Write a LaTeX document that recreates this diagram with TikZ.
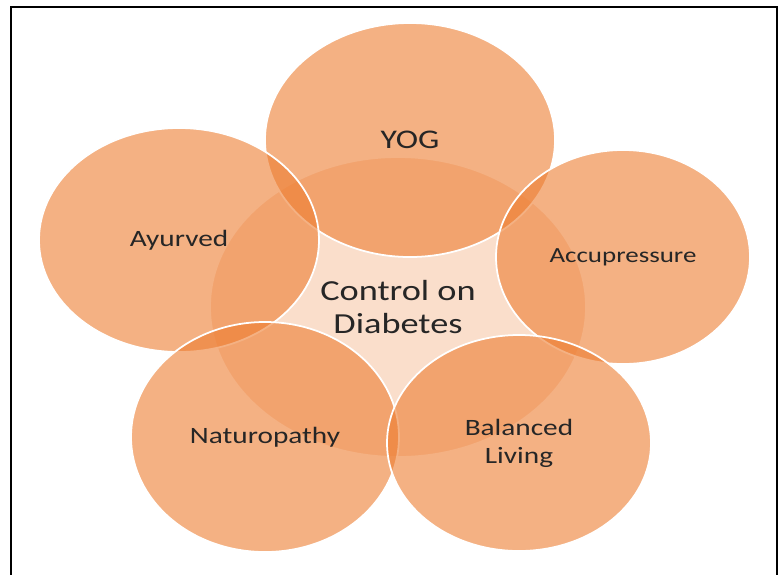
\documentclass[tikz,border=0pt]{standalone}
\usepackage{amsmath}
\usepackage{fontspec}
\setmainfont{Carlito}
\usepackage{tikz}
\usetikzlibrary{shapes.geometric}

\definecolor{petal}{HTML}{ED7D31}
\definecolor{ink}{HTML}{262626}
\newcommand{\hstretch}[1]{\scalebox{1.25}[1]{#1}}

\tikzset{
  hub/.style={ellipse, inner sep=0pt, draw=white, line width=1.5pt,
    fill=petal, fill opacity=0.25, text opacity=1, text=ink, align=center},
  petalnode/.style={ellipse, inner sep=0pt, draw=white, line width=1.5pt,
    fill=petal, fill opacity=0.6, text opacity=1, text=ink, align=center}
}

\begin{document}
\begin{tikzpicture}[x=0.03cm,y=-0.03cm]
\useasboundingbox (0,0) rectangle (783,574);
\clip (0,0) rectangle (783,574);
\fill[white] (0,0) rectangle (783,574);
\draw[color=black, line width=1.6pt] (11,7) rectangle (777,590);

\node[hub, minimum width=11.28cm, minimum height=9cm,
  font=\fontsize{24.8}{29}\selectfont] (diab) at (398,307)
  {\hstretch{Control on}\\\hstretch{Diabetes}};
\node[petalnode, minimum width=8.7cm, minimum height=7.02cm,
  font=\fontsize{23}{27}\selectfont] (yog) at (410,140) {\hstretch{YOG}};
\node[petalnode, minimum width=7.62cm, minimum height=6.42cm,
  font=\fontsize{18.4}{22}\selectfont] (acu) at (623,257) {\hstretch{Accupressure}};
\node[petalnode, minimum width=8.4cm, minimum height=6.72cm,
  font=\fontsize{20}{24}\selectfont] (ayur) at (179,240) {\hstretch{Ayurved}};
\node[petalnode, minimum width=8.04cm, minimum height=6.9cm,
  font=\fontsize{20}{24}\selectfont] (natu) at (265,437) {\hstretch{Naturopathy}};
\node[petalnode, minimum width=7.92cm, minimum height=6.48cm,
  font=\fontsize{20}{24}\selectfont] (bal) at (519,443)
  {\hstretch{Balanced}\\\hstretch{Living}};
\end{tikzpicture}
\end{document}
